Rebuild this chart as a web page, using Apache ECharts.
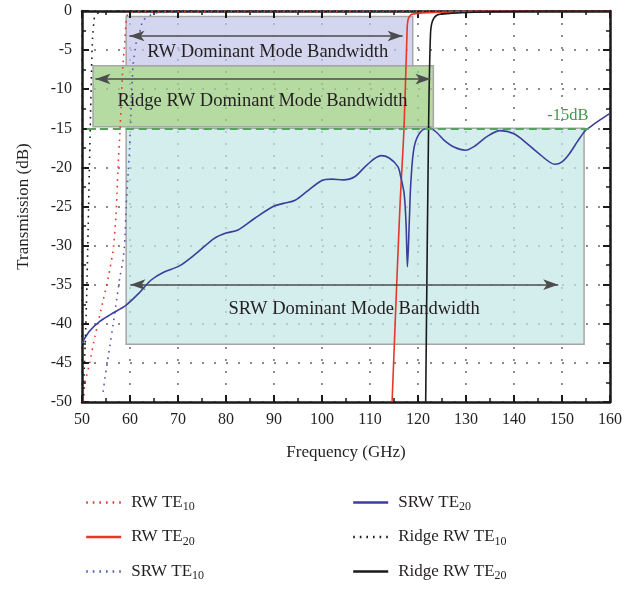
<!DOCTYPE html>
<html>
<head>
<meta charset="utf-8">
<script src="https://cdn.jsdelivr.net/npm/echarts@6/dist/echarts.min.js"></script>
<style>
  html, body { margin: 0; padding: 0; background: #fff; }
  #chart { width: 625px; height: 589px; }
</style>
</head>
<body>
<div id="chart"></div>
<script>
// Axis ranges and ticks
const freqMin = 50, freqMax = 160, freqStep = 10;
const dbMin = -50, dbMax = 0, dbStep = 5;

// Transmission curves: [frequency (GHz), transmission (dB)]
const rwTE10 = [[50.3,-50],[50.6,-47.6],[51.6,-45],[52.7,-41.6],[54.3,-37.3],[55.5,-34],[56.5,-30.6],
  [57.1,-26],[57.5,-20],[57.9,-15.6],[58.2,-11.4],[58.5,-7.1],[58.9,-4.1],[59.2,-1.2],[59.6,-0.3],[61,-0.1],[160,0]];
const rwTE20 = [[114.6,-50],[115.6,-34.4],[116.3,-24.2],[117.1,-14.8],[117.7,-3],[117.9,-1.2],[118.5,-0.5],
  [120,-0.3],[125,-0.15],[135,0],[160,0]];
const srwTE10 = [[54.4,-48.7],[54.8,-46.8],[55.8,-42.9],[56.5,-40],[57.2,-37],[57.9,-34],[58.5,-32],[58.9,-29.7],
  [59.2,-25],[59.6,-20.8],[59.9,-17.8],[60.3,-11.4],[60.6,-7.1],[61.3,-4],[62,-2.8],[62.7,-1.2],[65,-0.3],[70,-0.1],[160,0]];
const srwTE20 = [[50,-42.5],[51.5,-41],[53.7,-39.7],[56,-38.8],[59.2,-37.6],[62,-36],[64.4,-34.4],[67,-33.4],
  [70.3,-32.6],[74,-30.9],[77.5,-29.1],[80,-28.4],[82.5,-28],[86,-26.5],[89.8,-25],[92,-24.6],[94.4,-24.2],
  [97,-23],[99.9,-21.7],[102,-21.5],[104.4,-21.6],[106.8,-21.2],[109.5,-19.6],[112.3,-18.5],[114,-18.8],
  [115.8,-19.9],[116.4,-21.2],[117.1,-23.3],[117.5,-27],[117.8,-32.7],[118.2,-26.7],[118.5,-22],[119.2,-17.4],
  [120.6,-15.4],[122.5,-15],[124,-15.6],[125.4,-16.5],[127.5,-17.4],[129.9,-17.8],[132,-17.2],[134.5,-16],
  [137.1,-15.3],[140,-15.7],[142.6,-16.9],[145.5,-18.4],[148.5,-19.6],[150,-19.3],[151.6,-18.2],[153.2,-16.7],
  [154.7,-15.4],[155.7,-14.9],[158,-13.9],[160,-13.1]];
const ridgeTE10 = [[50.15,-50],[50.3,-48.5],[50.7,-42],[51,-35.7],[51.3,-27.2],[51.5,-21],[51.7,-15.6],
  [52,-7.1],[52.2,-3.5],[52.6,-0.8],[53.5,-0.2],[56,0],[160,0]];
const ridgeTE20 = [[121.6,-50],[122.2,-15],[122.6,-3],[123,-1.3],[124,-0.5],[126,-0.35],[128.2,-0.25],
  [135,-0.1],[145,0],[160,0]];

// Bandwidth regions: [start GHz, end GHz, top dB, bottom dB]
const rwBand = [59.2, 118.9, -0.7, -7];
const ridgeBand = [52.3, 123.2, -7, -14.8];
const srwBand = [59.2, 154.6, -15, -42.6];

// Bandwidth arrows: [start GHz, end GHz, level dB]
const rwArrow = [59.9, 116.8, -3.2];
const ridgeArrow = [52.8, 122.6, -8.7];
const srwArrow = [60.1, 149.2, -35];

// Region titles: [GHz, dB, text]
const bandLabels = [
  [88.7, -5.3, 'RW Dominant Mode Bandwidth'],
  [87.6, -11.5, 'Ridge RW Dominant Mode Bandwidth'],
  [106.7, -38.1, 'SRW Dominant Mode Bandwidth']
];
// -15 dB reference
const refLevel = -15;
const refLine = [51, 156];
const refLabel = [151.2, -13.4, '-15dB'];

const FONT = '"Liberation Serif", "DejaVu Serif", serif';
const RED = '#e8362b', BLUE = '#3b3f9c', BLUE_DOT = '#5558b8', BLACK = '#1a1a1a';
const legendLeft = ['RW TE10', 'RW TE20', 'SRW TE10'];
const legendRight = ['SRW TE20', 'Ridge RW TE10', 'Ridge RW TE20'];

function box(b, fill) {
  return [{ coord: [b[0], b[2]], itemStyle: { color: fill, borderColor: '#a6a6a6', borderWidth: 1.5 } },
          { coord: [b[1], b[3]] }];
}
function arrow(a) {
  return [{ coord: [a[0], a[2]] }, { coord: [a[1], a[2]] }];
}

const chart = echarts.init(document.getElementById('chart'), null, { renderer: 'canvas' });

const axisCommon = {
  axisLine: { show: true, onZero: false, lineStyle: { color: BLACK, width: 2.5 } },
  axisTick: { show: true, inside: true, length: 7, lineStyle: { color: BLACK, width: 2 } },
  minorTick: { show: true, splitNumber: 2, length: 4, lineStyle: { color: BLACK, width: 1.5 } }
};

function lineSeries(name, data, color, dotted, width) {
  return {
    name, type: 'line', data, symbol: 'none', z: 3,
    smooth: dotted ? 0.15 : 0.3,
    lineStyle: { color, width, type: dotted ? [1.6, 5] : 'solid' },
    itemStyle: { color },
    emphasis: { disabled: true }
  };
}

const legendText = {
  fontFamily: FONT, fontSize: 17, color: '#231f20', padding: [0, 0, 0, 5],
  rich: { sub: { fontFamily: FONT, fontSize: 12, padding: [9, 0, 0, 0], color: '#231f20' } }
};
const legendFmt = n => n.replace(/TE(\d+)/, 'TE{sub|$1}');
const legendCommon = {
  orient: 'vertical', top: 489, itemWidth: 35, itemHeight: 20, itemGap: 15.5,
  itemStyle: { opacity: 0 }, lineStyle: { width: 2.4 },
  textStyle: legendText, formatter: legendFmt
};

chart.setOption({
  animation: false,
  textStyle: { fontFamily: FONT },
  grid: { left: 82, right: 11, top: 11, bottom: 187, containLabel: false },
  legend: [
    Object.assign({ data: legendLeft, left: 80 }, legendCommon),
    Object.assign({ data: legendRight, left: 347 }, legendCommon)
  ],
  xAxis: [
    Object.assign({
      type: 'value', min: freqMin, max: freqMax, interval: freqStep, position: 'bottom', z: 1,
      name: 'Frequency (GHz)', nameLocation: 'middle', nameGap: 42,
      nameTextStyle: { fontFamily: FONT, fontSize: 17, color: '#231f20' },
      axisLabel: { fontFamily: FONT, fontSize: 16, color: '#231f20', margin: 10 },
      splitLine: { show: true, lineStyle: { color: '#666', width: 1.5, type: [2, 10] } }
    }, axisCommon),
    Object.assign({
      type: 'value', min: freqMin, max: freqMax, interval: freqStep, position: 'top', z: 1,
      axisLabel: { show: false }, splitLine: { show: false }
    }, axisCommon)
  ],
  yAxis: [
    Object.assign({
      type: 'value', min: dbMin, max: dbMax, interval: dbStep, position: 'left', z: 1,
      name: 'Transmission (dB)', nameLocation: 'middle', nameGap: 50,
      nameTextStyle: { fontFamily: FONT, fontSize: 17, color: '#231f20' },
      axisLabel: { fontFamily: FONT, fontSize: 16, color: '#231f20', margin: 10 },
      splitLine: { show: true, lineStyle: { color: '#666', width: 1.5, type: [2, 10] } }
    }, axisCommon),
    Object.assign({
      type: 'value', min: dbMin, max: dbMax, interval: dbStep, position: 'right', z: 1,
      axisLabel: { show: false }, splitLine: { show: false }
    }, axisCommon)
  ],
  series: [
    {
      name: 'bands', type: 'line', data: [], z: 0.5, silent: true,
      markArea: {
        silent: true,
        data: [box(rwBand, 'rgba(196,198,234,0.72)'), box(ridgeBand, 'rgba(160,208,136,0.78)'),
               box(srwBand, 'rgba(196,230,230,0.72)')]
      },
      markLine: {
        silent: true, symbol: ['arrow', 'arrow'], symbolSize: [8, 15],
        label: { show: false },
        lineStyle: { color: '#4d4d4d', width: 1.5, type: 'solid' },
        data: [arrow(rwArrow), arrow(ridgeArrow), arrow(srwArrow)]
      }
    },
    {
      name: 'reference', type: 'line', data: [], z: 2, silent: true,
      markLine: {
        silent: true, symbol: 'none', label: { show: false },
        lineStyle: { color: '#55a35f', width: 2, type: [8, 5] },
        data: [[{ coord: [refLine[0], refLevel] }, { coord: [refLine[1], refLevel] }]]
      },
      markPoint: {
        silent: true, symbol: 'circle', symbolSize: 0,
        data: bandLabels.map(l => ({ coord: [l[0], l[1]], value: l[2],
          label: { show: true, position: 'inside', formatter: l[2], fontFamily: FONT, fontSize: 18.5, color: '#231f20' } }))
          .concat([{ coord: [refLabel[0], refLabel[1]], value: refLabel[2],
            label: { show: true, position: 'inside', formatter: refLabel[2], fontFamily: FONT, fontSize: 16.5, color: '#3e9a4c' } }])
      }
    },
    lineSeries('RW TE10', rwTE10, RED, true, 1.6),
    lineSeries('RW TE20', rwTE20, RED, false, 1.6),
    lineSeries('SRW TE10', srwTE10, BLUE_DOT, true, 1.6),
    lineSeries('SRW TE20', srwTE20, BLUE, false, 1.6),
    lineSeries('Ridge RW TE10', ridgeTE10, BLACK, true, 1.6),
    lineSeries('Ridge RW TE20', ridgeTE20, BLACK, false, 1.6)
  ]
});
</script>
</body>
</html>
